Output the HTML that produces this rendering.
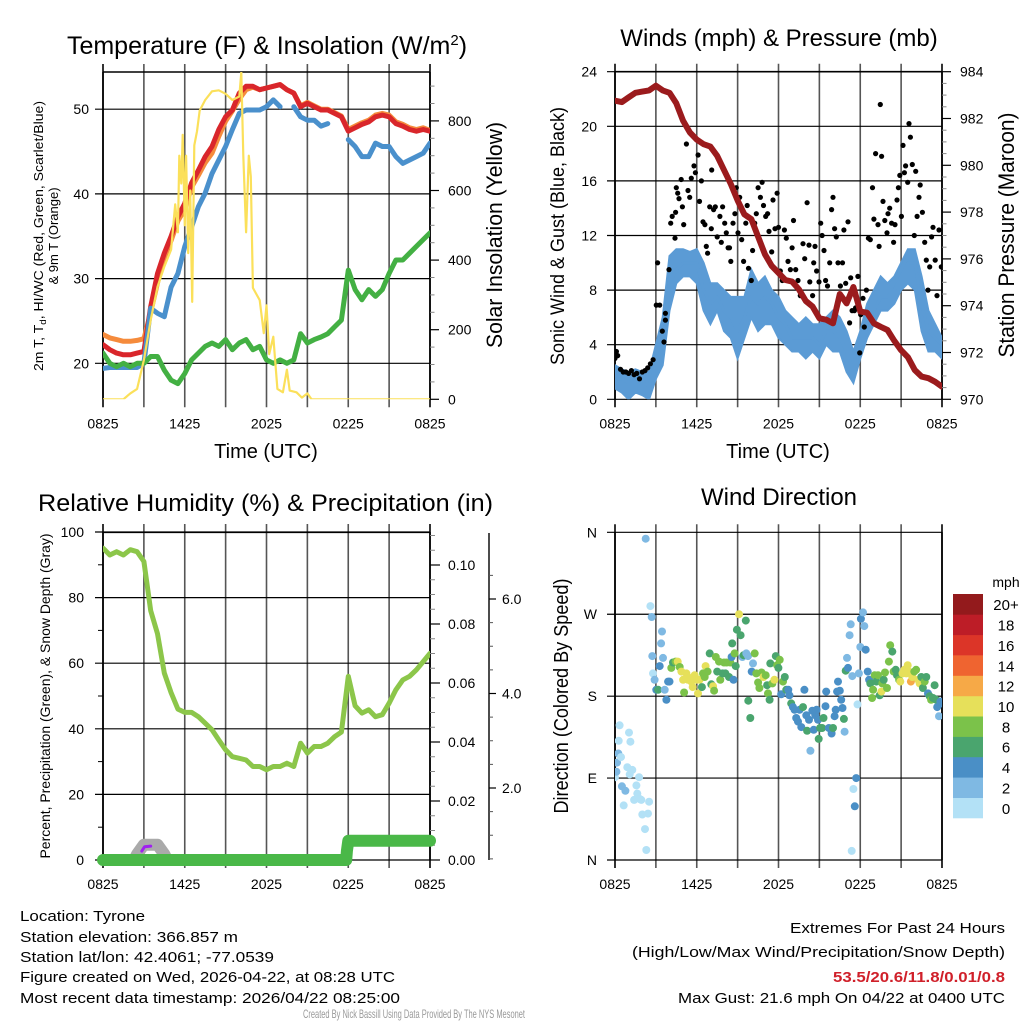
<!DOCTYPE html>
<html><head><meta charset="utf-8"><style>
html,body{margin:0;padding:0;background:#fff;}
svg{display:block;font-family:"Liberation Sans",Arial,sans-serif;}
</style></head><body>
<svg id="fig" xmlns="http://www.w3.org/2000/svg" width="1024" height="1024" viewBox="0 0 1024 1024">
<rect x="0" y="0" width="1024" height="1024" fill="#fff"/>
<defs>
<clipPath id="c1"><rect x="103" y="72" width="327" height="327.3"/></clipPath>
<clipPath id="c2"><rect x="615" y="71.7" width="327" height="327.6"/></clipPath>
<clipPath id="c3"><rect x="103" y="532" width="327" height="328"/></clipPath>
<clipPath id="c4"><rect x="615" y="526" width="327" height="340"/></clipPath>
</defs>
<text x="267" y="54" font-size="25" text-anchor="middle">Temperature (F) &amp; Insolation (W/m<tspan font-size="15" dy="-9">2</tspan><tspan dy="9">)</tspan></text>
<text x="779" y="46" font-size="24" text-anchor="middle">Winds (mph) &amp; Pressure (mb)</text>
<text x="38" y="511" font-size="24" textLength="455" lengthAdjust="spacingAndGlyphs">Relative Humidity (%) &amp; Precipitation (in)</text>
<text x="779" y="505" font-size="24" text-anchor="middle">Wind Direction</text>
<text x="266" y="458" font-size="20" text-anchor="middle">Time (UTC)</text>
<text x="778" y="458" font-size="20" text-anchor="middle">Time (UTC)</text>
<text transform="translate(43,236) rotate(-90)" font-size="13" text-anchor="middle" textLength="270" lengthAdjust="spacingAndGlyphs">2m T, T<tspan font-size="9" dy="3">d</tspan><tspan dy="-3">, HI/WC (Red, Green, Scarlet/Blue)</tspan></text>
<text transform="translate(58,236) rotate(-90)" font-size="13" text-anchor="middle">&amp; 9m T (Orange)</text>
<text transform="translate(502,235) rotate(-90)" font-size="22" text-anchor="middle" textLength="226" lengthAdjust="spacingAndGlyphs">Solar Insolation (Yellow)</text>
<text transform="translate(564,236) rotate(-90)" font-size="19" text-anchor="middle" textLength="258" lengthAdjust="spacingAndGlyphs">Sonic Wind &amp; Gust (Blue, Black)</text>
<text transform="translate(1014,235) rotate(-90)" font-size="22" text-anchor="middle" textLength="245" lengthAdjust="spacingAndGlyphs">Station Pressure (Maroon)</text>
<text transform="translate(50,696) rotate(-90)" font-size="14" text-anchor="middle" textLength="325" lengthAdjust="spacingAndGlyphs">Percent, Precipitation (Green), &amp; Snow Depth (Gray)</text>
<text transform="translate(568,696) rotate(-90)" font-size="20" text-anchor="middle" textLength="235" lengthAdjust="spacingAndGlyphs">Direction (Colored By Speed)</text>
<g font-size="15">
<text x="20" y="921" textLength="125" lengthAdjust="spacingAndGlyphs">Location: Tyrone</text>
<text x="20" y="942" textLength="218" lengthAdjust="spacingAndGlyphs">Station elevation: 366.857 m</text>
<text x="20" y="962" textLength="254" lengthAdjust="spacingAndGlyphs">Station lat/lon: 42.4061; -77.0539</text>
<text x="20" y="982" textLength="375" lengthAdjust="spacingAndGlyphs">Figure created on Wed, 2026-04-22, at 08:28 UTC</text>
<text x="20" y="1003" textLength="380" lengthAdjust="spacingAndGlyphs">Most recent data timestamp: 2026/04/22 08:25:00</text>
</g>
<g font-size="15" text-anchor="end">
<text x="1005" y="933" textLength="215" lengthAdjust="spacingAndGlyphs">Extremes For Past 24 Hours</text>
<text x="1005" y="957" textLength="373" lengthAdjust="spacingAndGlyphs">(High/Low/Max Wind/Precipitation/Snow Depth)</text>
<text x="1005" y="982" fill="#d0202a" font-weight="bold" textLength="172" lengthAdjust="spacingAndGlyphs">53.5/20.6/11.8/0.01/0.8</text>
<text x="1005" y="1003" textLength="327" lengthAdjust="spacingAndGlyphs">Max Gust: 21.6 mph On 04/22 at 0400 UTC</text>
</g>
<text x="303" y="1018" font-size="12" fill="#999" textLength="222" lengthAdjust="spacingAndGlyphs">Created By Nick Bassill Using Data Provided By The NYS Mesonet</text>
</svg>
<script>
// ---------- data ----------
const halfHours = [];
for (let i = 0; i <= 48; i++) halfHours.push(i * 0.5);
const xTickLabels = ["0825", "1425", "2025", "0225", "0825"];
const xTickHours = [0, 6, 12, 18, 24];

const temp2m = [22.2,21.6,21.2,21,21,21.2,21.4,26.7,30.6,33,35,37.3,38.9,41.3,42.8,44.4,45.6,47.6,49.1,49.9,51.9,52.7,52.7,52.3,52.5,52.7,52.9,52.3,51.9,50.3,50.7,50.3,49.9,49.9,49.5,49.1,47.4,47.8,48.2,48.5,49.1,49.3,49.1,48.3,48,47.6,47.4,47.6,47.4];
const temp9m = [23.4,23,22.8,22.6,22.6,22.7,22.9,26,29.5,32.5,34.5,36.8,38.2,40.8,42.2,43.7,44.8,46.8,48.6,49.8,51.2,52.3,52.6,52.3,52.5,52.7,52.9,52.3,51.9,50.4,50.8,50.4,50,50,49.6,49.2,47.6,48,48.4,48.7,49.3,49.5,49.3,48.5,48.2,47.8,47.6,47.8,47.5];
const windChill = [19.4,19.5,19.5,19.5,19.5,19.5,20,26.5,25.9,25.5,29,30.6,33.8,36.1,38.5,40.1,42.4,44,45.6,47.6,49.5,49.9,49.9,49.9,50.3,51.1,50.3,null,50.3,49.1,48.7,48.7,48,48.3,null,null,46.4,45.6,44.4,44.4,46,45.6,45.6,44.4,43.6,44,44.4,44.8,46];
const dewPoint = [21.2,20,19.6,20,19.6,20,20,20.8,20.8,19.2,18,17.6,18.8,20.4,21.2,22,22.4,22,22.8,21.6,22.4,22.8,21.6,22,20.4,20,20.4,20,20.4,23.5,22.4,22.8,23.1,23.5,24.3,25.1,31,28.7,27.5,28.7,27.9,28.7,30.6,32.2,32.2,33,33.8,34.6,35.4];
const solarT = [0,1.5,2,2.5,3,3.5,4,4.5,5,5.3,5.5,5.6,5.75,5.85,6,6.1,6.25,6.4,6.55,6.7,6.9,7.1,7.5,8,8.5,9,9.5,10,10.15,10.3,10.5,10.7,10.85,11,11.5,11.8,12,12.2,12.5,12.8,13.2,13.5,13.7,14.2,14.6,15,15.3,24];
const solarV = [0,0,17,30,113,228,323,381,430,560,480,700,620,760,500,700,420,600,280,730,770,830,860,885,888,878,860,870,940,700,480,700,640,320,285,190,270,130,180,30,20,85,25,20,5,17,0,0];

const windLo = [0.8,0.5,0,0.5,0.3,0,1.5,2.5,6.5,8.5,9,9,8.5,6.5,5.5,6.5,5,4.5,3,4.5,6,5,5.5,5.5,4.5,4,3.5,3.5,3,3.5,3,4,3.5,3.5,2,1.2,3,4.5,5.5,6.5,6.5,7,8,8.5,8,5,3.5,3.5,3];
const windMean = [1.5,1.5,1.2,1.5,1.2,1,2.5,4,8.5,9.5,10,10,10,8,7,7.5,6.5,6,5,6,7.5,7,7.5,7,6,5.5,4.5,4.5,4.5,4.5,4,5,5,4.5,3.5,2,3.5,5.5,6.5,7.5,7.5,8,9,10,10,7,5,4.5,4];
const windHi = [2.5,2.2,2,2.2,2,2,4,6,10.5,11,11,10.8,11,10,8.5,8.5,8,7.5,7.5,7.5,9.5,8.5,9,8,7.5,6.5,6,5.5,6,5.5,5.5,6,6.5,6,5,3.5,5,7,8,9,8.5,9,10,11,11,9,6.5,5.5,4.5];
const pressure = [982.76,982.7,982.9,983.1,983.15,983.2,983.4,983.2,983.1,982.65,981.9,981.4,981.1,980.9,980.8,980.4,979.8,979.2,978.5,977.9,977.7,976.95,976.2,975.7,975.4,975.1,975.03,974.7,974.2,973.96,973.46,973.4,973.25,974.5,974.1,974.8,973.75,973.7,973.25,973.1,972.96,972.5,972.1,971.8,971.25,970.97,970.9,970.75,970.54];
const gustT = [0,0.1,0.2,0.4,0.6,0.8,1,1.2,1.4,1.6,1.8,2,2.2,2.4,2.6,2.8,3.13,3.03,3.28,3.47,3.7,3.7,3.6,3.96,4.09,4.2,4.4,4.45,4.5,4.6,4.7,4.86,4.95,5.04,5.24,5.36,5.48,5.6,5.8,5.9,6.1,6.2,6.34,6.46,6.6,6.7,6.8,6.95,7.07,7.1,7.24,7.36,7.5,7.7,7.8,7.9,8.05,8.17,8.3,8.4,8.5,8.66,8.8,8.9,9.03,9.15,9.3,9.44,9.6,9.7,9.8,10,10.1,10.25,10.37,10.5,10.67,10.8,10.9,11.06,11.2,11.3,11.5,11.6,11.74,11.9,12,12.13,12.28,12.43,12.57,12.7,12.87,13,13.1,13.26,13.43,13.6,13.8,13.92,14.1,14.24,14.3,14.5,14.58,14.68,14.8,14.97,15.1,15.2,15.34,15.46,15.6,15.76,15.9,16,16.12,16.24,16.37,16.54,16.7,16.8,16.93,17.1,17.22,17.3,17.4,17.57,17.66,17.83,17.96,18.03,18.2,18.3,18.45,18.6,18.74,18.9,19,19.13,19.3,19.38,19.47,19.57,19.67,19.8,19.96,20.04,20.16,20.3,20.45,20.55,20.7,20.8,20.9,21.02,21.14,21.24,21.33,21.48,21.58,21.68,21.82,21.97,22.07,22.17,22.31,22.4,22.56,22.73,22.85,22.97,23.1,23.24,23.34,23.5,23.63,23.78,23.95];
const gustV = [3,3.5,3.2,2.2,2,2,1.9,2.1,1.8,1.9,1.5,2,2.1,2.3,2.6,2.9,10,6.9,6.9,5,5.8,6.3,4.2,9.5,12.9,13.4,11.8,13.7,15.5,15.1,14.7,16.1,14.1,12.8,18.7,15.3,14.8,16.2,17.1,16.6,17.9,14.5,16,13,12.8,11.2,10.7,14.1,12.5,16.8,13.9,14.1,11.9,13.4,11.5,14.1,12.9,12.2,11.1,11.1,10.1,12.9,13.6,15.5,12.2,14.8,11.7,10.1,12.9,14.2,9.6,8.7,10.9,12.9,13.6,15.5,14.8,15.9,14.2,13.4,13.6,12.3,10.8,14.6,12.5,15.1,12.6,9.4,8.7,12.4,11.8,10.1,9.5,11.1,13.1,9.5,8.7,7.6,11.4,10.3,14.4,11.3,8.6,7.6,10,11.2,9.4,8.6,12.9,12,10.9,8.7,8.3,10,13.9,14.8,12.5,11.9,10,8.3,10,12.4,8.5,13,5.6,8.9,6.5,6.5,6.7,9,3.4,6.2,7.4,5.3,8,11.8,11.7,15.5,13.2,18,12.8,11.2,21.6,17.8,14.5,13.1,12.2,13.6,14,12.9,11.5,12.8,14.6,15.5,16.4,13.4,18.6,16.6,17.1,15.9,20.2,19.2,17.2,12,16.7,13.4,14.8,15.7,13.7,11.5,10.2,8,9.7,11.9,12.6,10.2,7.6,12.4,9.7];

const relHumidity = [95.1,93,94,93,94.6,94,91,76,69,57,51,46,45,45,43.7,41.7,39.7,36.6,33.6,31.5,31,30.5,28.5,28.5,27.5,28.5,28.5,29.5,28.5,35.6,32.6,34.6,34.6,35.6,37.6,39,56,47,44.8,45.8,43.7,44.3,47.8,51.9,54.9,56,58,60.5,63];
const precipT = [0,17.85,17.9,18.0,24];
const precipV = [0,0,0.003,0.0065,0.0065];
const snowT = [2,2.5,3,3.5,4,4.5,5];
const snowV = [0.3,0.6,0.8,0.8,0.8,0.6,0.3];
const rainRateT = [2.85,3.05,3.5];
const rainRateV = [0.003,0.0045,0.0047];

const dirT = [0,0.1,0.15,0.24,0.27,0.34,0.44,0.51,0.64,0.76,0.9,1.03,1.08,1.13,1.27,1.4,1.57,1.64,1.77,1.81,1.93,2.0,2.2,2.3,2.25,2.42,2.5,2.6,2.69,2.74,2.79,2.91,3.03,3.16,3.28,3.38,3.45,3.52,3.65,3.77,3.9,4.0,4.13,4.26,4.45,4.6,4.75,4.87,5.0,5.07,5.24,5.36,5.48,5.6,5.7,5.85,5.97,6.09,6.2,6.38,6.46,6.58,6.65,6.8,6.95,7.07,7.2,7.27,7.4,7.5,7.63,7.73,7.9,8.0,8.1,8.2,8.37,8.46,8.56,8.6,8.7,8.78,8.86,8.95,9.1,9.22,9.35,9.44,9.6,9.64,9.76,9.78,9.93,10.03,10.13,10.25,10.37,10.5,10.6,10.75,10.9,11.06,11.16,11.23,11.35,11.4,11.55,11.7,11.8,11.9,11.99,12.09,12.2,12.33,12.46,12.57,12.72,12.8,12.93,13.06,13.18,13.3,13.43,13.55,13.67,13.8,13.9,14.04,14.1,14.24,14.34,14.48,14.58,14.7,14.8,14.9,14.95,15.05,15.2,15.3,15.45,15.5,15.7,15.9,16.0,16.12,16.2,16.3,16.37,16.5,16.6,16.7,16.8,16.85,16.93,17.03,17.1,17.22,17.3,17.42,17.37,17.5,17.6,17.7,17.8,17.9,18.0,18.05,18.2,18.3,18.4,18.55,18.65,18.74,18.87,18.94,19.06,19.18,19.3,19.43,19.55,19.62,19.72,19.82,19.96,20.1,20.2,20.35,20.45,20.6,20.7,20.85,20.94,21.1,21.24,21.38,21.48,21.57,21.72,21.82,21.97,22.1,22.26,22.36,22.48,22.6,22.73,22.85,22.97,23.1,23.2,23.34,23.46,23.58,23.65,23.78,23.88,24];
const dirDeg = [91,97,107,117,131,148,113,81,60,76,102,140,94,130,99,66,82,73,91,67,66,50,34,11,353,51,64,279,267,224,205,198,187,187,213,238,251,222,187,176,196,196,211,217,218,218,212,207,198,184,205,198,200,196,190,203,198,183,198,190,205,201,213,207,227,193,191,186,223,207,218,198,205,217,205,217,201,217,223,238,198,227,213,253,270,247,223,225,263,227,224,175,156,207,216,227,205,195,189,206,201,203,192,183,176,216,194,198,224,214,211,220,182,196,201,187,187,181,172,168,165,156,152,165,146,168,187,159,142,154,120,164,143,159,165,154,133,145,145,156,169,185,145,139,145,158,165,185,196,186,176,167,155,141,208,222,211,247,259,202,10,78,59,90,171,205,234,265,272,257,231,207,198,194,178,187,203,196,203,181,185,194,198,206,189,218,236,229,207,209,203,198,196,205,209,205,214,207,196,201,207,209,198,194,201,189,196,201,183,180,176,178,192,176,168,158,174,172];
const dirSpd = [1,3,3,2,1,1,1,3,1,2,1,1,1,1,1,1,1,1,1,1,1,1,1,1,3,1,1,1,3,3,1,3,5,7,5,3,3,3,3,5,5,4,9,7,8,10,8,10,10,9,10,11,10,11,10,10,11,10,11,6,8,8,10,8,7,7,10,8,8,7,8,8,6,8,7,8,6,8,4,6,4,8,6,6,10,6,2,6,6,2,3,6,6,4,3,8,8,8,8,9,10,8,7,8,6,6,8,10,6,8,6,8,4,8,6,6,4,4,6,4,4,4,4,4,4,7,4,4,6,4,2,4,4,4,4,4,6,7,6,7,4,4,4,4,7,4,4,4,4,4,4,4,7,2,6,3,4,3,3,3,1,1,4,4,1,3,3,4,3,3,4,4,4,6,8,8,8,6,8,6,10,8,6,8,8,8,8,6,8,6,6,8,10,10,10,10,10,10,13,10,8,8,10,10,6,7,8,6,4,6,8,6,6,6,4,2,4,4];
const speedColors = ["#b3e1f6","#7fb9e3","#4a8fc6","#4aa56e","#7bc24a","#e6e05a","#f6a947","#ef6430","#dc3528","#bd1d27","#931a1c"];
const speedLabels = ["0","2","4","6","8","10","12","14","16","18","20+"];
const dirLabels = ["N","E","S","W","N"];
const dirTicks = [0,90,180,270,360];

// ---------- scales ----------
const X1 = t => 103 + t * 327 / 24;
const X2 = t => 615 + t * 327 / 24;
const YT = v => 363.3 - (v - 20) * 8.47;
const YI = w => 399.3 - w * 0.348;
const YW = v => 399.3 - v * 13.65;
const YP = p => 399.3 - (p - 970) * 23.4;
const YR = v => 860 - v * 3.28;
const YPR = v => 860 - v * 2950;
const YSN = v => 882.5 - v * 47.25;
const YD = d => 860 - d * 0.9102;

const NS = "http://www.w3.org/2000/svg";
const svg = document.getElementById('fig');
function mk(tag, attrs, parent) {
  const e = document.createElementNS(NS, tag);
  for (const k in attrs) e.setAttribute(k, attrs[k]);
  (parent || svg).appendChild(e);
  return e;
}
function grp(name, clip) {
  const g = mk('g', clip ? {'clip-path': 'url(#' + clip + ')'} : {});
  
  
  return g;
}
function pathFrom(ts, vs, fx, fy) {
  let d = '', pen = false;
  for (let i = 0; i < ts.length; i++) {
    if (vs[i] === null) { pen = false; continue; }
    d += (pen ? 'L' : 'M') + fx(ts[i]).toFixed(1) + ' ' + fy(vs[i]).toFixed(1);
    pen = true;
  }
  return d;
}
function line(g, name, x1, y1, x2, y2, stroke, w) {
  const l = mk('line', {x1, y1, x2, y2, stroke, 'stroke-width': w}, g);
  
  
  return l;
}
function txt(g, name, x, y, s, size, anchor) {
  const t = mk('text', {x, y, 'font-size': size, 'text-anchor': anchor}, g);
  t.textContent = s;
  
  
  return t;
}
function series(g, name, ts, vs, fx, fy, color, w) {
  const p = mk('path', {d: pathFrom(ts, vs, fx, fy), fill: 'none', stroke: color, 'stroke-width': w, 'stroke-linejoin': 'round', 'stroke-linecap': 'round'}, g);
  
  
  return p;
}
function frame(prefix, L, T, B, fx, hGridVals, fy, yLabelFn, yLabX, leftTicks) {
  const g = grp(prefix + '-axes');
  for (let h = 0; h <= 24; h += 3) {
    const x = fx(h);
    line(g, prefix + '-vgrid', x, T - 8, x, B + 8, (h === 0 || h === 24) ? '#000' : '#555', 1.6);
  }
  hGridVals.forEach((v, i) => {
    const y = fy(v);
    line(g, prefix + '-hgrid', L - 8, y, L + 327, y, '#000', 1.2);
    txt(g, prefix + '-y-tick-label', yLabX, y + 5, yLabelFn(v, i), 14, 'end');
  });
  (leftTicks || []).forEach(v => line(g, prefix + '-y-minor-tick', L - 5, fy(v), L, fy(v), '#000', 1));
  line(g, prefix + '-left-axis', L, T, L, B, '#000', 1.6);
  line(g, prefix + '-right-axis', L + 327, T, L + 327, B, '#000', 1.6);
  xTickHours.forEach((h, i) => {
    txt(g, prefix + '-x-tick-label', fx(h), B + 29, xTickLabels[i], 14, 'middle');
  });
  return g;
}
function rightAxis(prefix, x, majors, minors, fy, fmt, labX, tickLen) {
  const g = grp(prefix);
  majors.forEach(v => {
    line(g, prefix + '-major-tick', x, fy(v), x + tickLen, fy(v), '#000', 1.2);
    txt(g, prefix + '-tick-label', labX, fy(v) + 5, fmt(v), 14, 'start');
  });
  minors.forEach(v => line(g, prefix + '-minor-tick', x, fy(v), x + tickLen / 2, fy(v), '#888', 1));
  return g;
}

// ---------- panel 1 ----------
frame('temp', 103, 72, 399.3, X1, [20, 30, 40, 50], YT, v => String(v), 89);
line(svg, 'temp-top-border', 103, 72, 430, 72, '#000', 1.6);
(function () {
  const maj = [0, 200, 400, 600, 800], mi = [];
  for (let w = 50; w <= 900; w += 50) if (w % 200) mi.push(w);
  rightAxis('insolation-axis', 430, maj, mi, YI, v => String(v), 448, 9);
  const g = grp('temp-series', 'c1');
  series(g, 'temp-9m-line', halfHours, temp9m, X1, YT, '#f58b3c', 5);
  series(g, 'temp-2m-line', halfHours, temp2m, X1, YT, '#d9262b', 5);
  series(g, 'wind-chill-line', halfHours, windChill, X1, YT, '#4a90cc', 5);
  series(g, 'dewpoint-line', halfHours, dewPoint, X1, YT, '#43b043', 5);
  series(g, 'insolation-line', solarT, solarV, X1, YI, '#fbe05a', 2.2);
})();

// ---------- panel 2 ----------
frame('winds', 615, 71.7, 399.3, X2, [0, 4, 8, 12, 16, 20, 24], YW, v => String(v), 597);
line(svg, 'winds-top-border', 615, 71.7, 942, 71.7, '#000', 1.6);
(function () {
  const maj = [970, 972, 974, 976, 978, 980, 982, 984], mi = [];
  for (let p = 970.5; p < 984; p += 0.5) if (Math.abs(p - Math.round(p / 2) * 2) > 0.01) mi.push(p);
  rightAxis('pressure-axis', 942, maj, mi, YP, v => String(v), 960, 9);
  const g = grp('winds-series', 'c2');
  let d = '';
  halfHours.forEach((t, i) => { d += (i ? 'L' : 'M') + X2(t).toFixed(1) + ' ' + YW(windHi[i]).toFixed(1); });
  for (let i = halfHours.length - 1; i >= 0; i--) d += 'L' + X2(halfHours[i]).toFixed(1) + ' ' + YW(windLo[i]).toFixed(1);
  const band = mk('path', {d: d + 'Z', fill: '#5b9bd5', stroke: '#5b9bd5', 'stroke-width': 2}, g);
  
  
  series(g, 'wind-speed-line', halfHours, windMean, X2, YW, '#5b9bd5', 3);
  gustT.forEach((t, i) => {
    const c = mk('circle', {cx: X2(t).toFixed(1), cy: YW(gustV[i]).toFixed(1), r: 2.6, fill: '#000'}, g);
    
    
  });
  series(g, 'pressure-line', halfHours, pressure, X2, YP, '#9b1b1d', 6);
})();

// ---------- panel 3 ----------
frame('humidity', 103, 532, 860, X1, [0, 20, 40, 60, 80, 100], YR, v => String(v), 84, [10, 30, 50, 70, 90]);
line(svg, 'humidity-top-border', 103, 532.3, 430, 532.3, '#000', 1.6);
(function () {
  const maj = [0, 0.02, 0.04, 0.06, 0.08, 0.10], mi = [];
  for (let k = 1; k <= 22; k++) if (k % 4) mi.push(k * 0.005);
  rightAxis('precip-axis', 430, maj, mi, YPR, v => v.toFixed(2), 448, 10);
  const sg = grp('snow-axis');
  line(sg, 'snow-axis-line', 489, 533, 489, 860, '#000', 1.4);
  const smaj = [2, 4, 6], smi = [];
  for (let k = 1; k <= 13; k++) if (k % 4) smi.push(k * 0.5);
  smaj.forEach(v => {
    line(sg, 'snow-major-tick', 489, YSN(v), 496, YSN(v), '#000', 1.2);
    txt(sg, 'snow-tick-label', 502, YSN(v) + 5, v.toFixed(1), 14, 'start');
  });
  smi.forEach(v => { if (YSN(v) > 533) line(sg, 'snow-minor-tick', 489, YSN(v), 493, YSN(v), '#555', 1); });
  const g = grp('humidity-series', 'c3');
  series(g, 'snow-depth-line', snowT, snowV, X1, YSN, '#aaaaaa', 12);
  series(g, 'rain-rate-line', rainRateT, rainRateV, X1, YPR, '#a020f0', 3);
  series(g, 'relative-humidity-line', halfHours, relHumidity, X1, YR, '#8cc64a', 5);
  const pg = grp('precip-group');
  series(pg, 'precipitation-line', precipT, precipV, X1, YPR, '#4ab848', 12);
})();

// ---------- panel 4 ----------
frame('direction', 615, 532.3, 860, X2, dirTicks, YD, (v, i) => dirLabels[i], 597);
(function () {
  const g = grp('direction-series', 'c4');
  dirT.forEach((t, i) => {
    const bin = Math.min(10, Math.floor(dirSpd[i] / 2));
    const c = mk('circle', {cx: X2(t).toFixed(1), cy: YD(dirDeg[i]).toFixed(1), r: 4, fill: speedColors[bin]}, g);
    
    
  });
  const lg = grp('speed-colorbar');
  const bh = 224 / speedColors.length;
  speedColors.forEach((col, i) => {
    const y = 818 - (i + 1) * bh;
    const r = mk('rect', {x: 953, y: y.toFixed(1), width: 30, height: (bh + 0.3).toFixed(1), fill: col}, lg);
    
    
    txt(lg, 'colorbar-label', 1006, y + bh / 2 + 6, speedLabels[i], 15, 'middle');
  });
  txt(lg, 'colorbar-unit', 1006, 587, 'mph', 14, 'middle');
})();
</script>
</body></html>
